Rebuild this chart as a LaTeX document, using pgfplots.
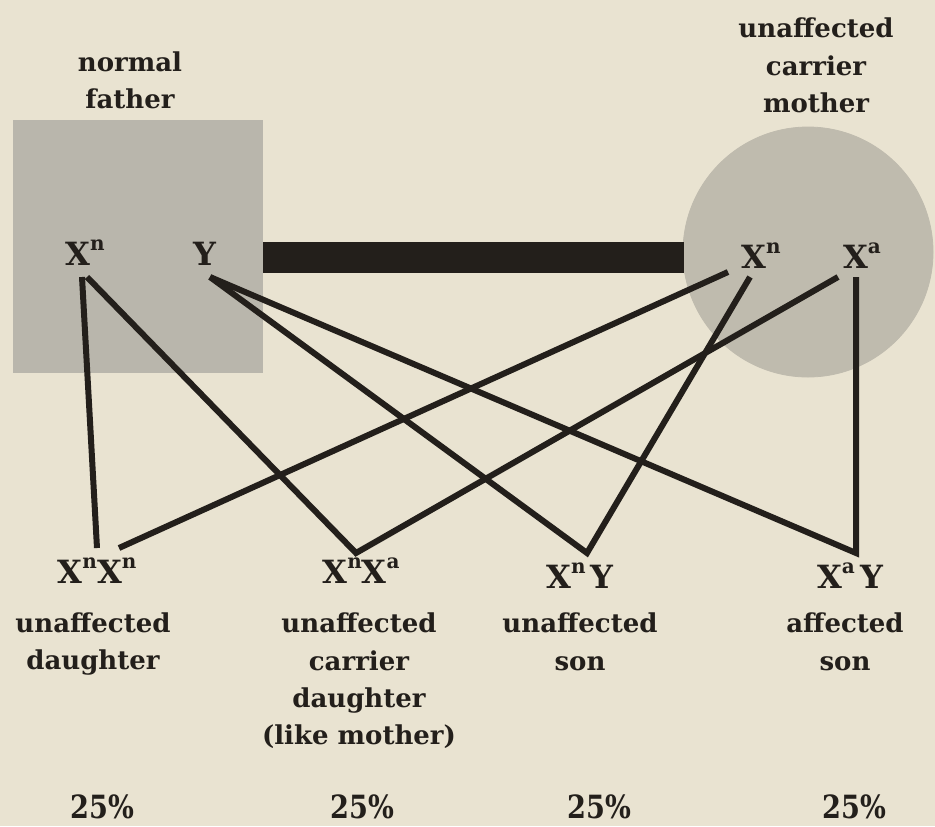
\documentclass[border=0pt]{standalone}
\usepackage{pgfplots}
\pgfplotsset{compat=1.18}
\usepackage{fontspec}
\usepackage{graphicx}
\setmainfont{DejaVu Serif}

\definecolor{paper}{HTML}{E9E3D1}
\definecolor{boxgray}{HTML}{B9B6AC}
\definecolor{ballgray}{HTML}{BFBBAE}
\definecolor{ink}{HTML}{231F1B}

% one line of text, baseline at (x,y) in pixel units
\newcommand{\txt}[3]{\node[anchor=base, inner sep=0pt, text=ink, font=\bfseries\fontsize{13}{16}\selectfont] at (axis cs:#1,#2) {#3};}
\newcommand{\geno}[3]{\node[anchor=base, inner sep=0pt, text=ink, font=\bfseries\fontsize{16}{18}\selectfont] at (axis cs:#1,#2) {#3};}
\newcommand{\pct}[2]{\node[anchor=base, inner sep=0pt, text=ink, font=\bfseries\fontsize{16}{18}\selectfont] at (axis cs:#1,#2) {\scalebox{0.85}[1]{25\%}};}
\newcommand{\Xs}[1]{X\raisebox{0.45em}{\fontsize{10}{10}\selectfont #1}}

\begin{document}
\begin{tikzpicture}
\begin{axis}[
    scale only axis,
    width=467.5pt, height=413pt,
    xmin=0, xmax=935, ymin=0, ymax=826,
    y dir=reverse,
    hide axis,
    clip marker paths=true,
]
% paper
\addplot[fill=paper, draw=none] coordinates {(0,0) (935,0) (935,826) (0,826)} -- cycle;
% father (square)
\addplot[fill=boxgray, draw=none] coordinates {(13,120) (263,120) (263,373) (13,373)} -- cycle;
% mother (circle)
\addplot[only marks, draw=ballgray, mark=*, mark size=62.5pt, mark options={fill=ballgray, draw=ballgray}] coordinates {(808,252)};
% marriage bar
\addplot[fill=ink, draw=none] coordinates {(263,242) (684,242) (684,273) (263,273)} -- cycle;

% lines to the children
\addplot[ink, line width=3pt] coordinates {(82,277) (97,548)};
\addplot[ink, line width=3pt] coordinates {(728,272) (119,548)};
\addplot[ink, line width=3pt, line join=miter] coordinates {(87,277) (356,553) (838,277)};
\addplot[ink, line width=3pt, line join=miter] coordinates {(210,277) (587,553) (750,277)};
\addplot[ink, line width=3pt, line join=miter] coordinates {(210,277) (856,553) (856,277)};

% parents
\txt{130}{71}{normal}
\txt{130}{108}{father}
\txt{816}{37}{unaffected}
\txt{816}{75}{carrier}
\txt{816}{112}{mother}
\geno{85}{265}{\Xs{n}}
\geno{205}{265}{Y}
\geno{761}{268}{\Xs{n}}
\geno{862}{268}{\Xs{a}}

% children
\geno{97}{583}{\Xs{n}\Xs{n}}
\geno{361}{583}{\Xs{n}\Xs{a}}
\geno{580}{588}{\Xs{n}\,Y}
\geno{850}{588}{\Xs{a}\,Y}

\txt{93}{632}{unaffected}
\txt{93}{669}{daughter}
\txt{359}{632}{unaffected}
\txt{359}{670}{carrier}
\txt{359}{707}{daughter}
\txt{359}{744}{(like mother)}
\txt{580}{632}{unaffected}
\txt{580}{670}{son}
\txt{845}{632}{affected}
\txt{845}{670}{son}

\pct{102}{818}
\pct{362}{818}
\pct{599}{818}
\pct{854}{818}
\end{axis}
\end{tikzpicture}
\end{document}
